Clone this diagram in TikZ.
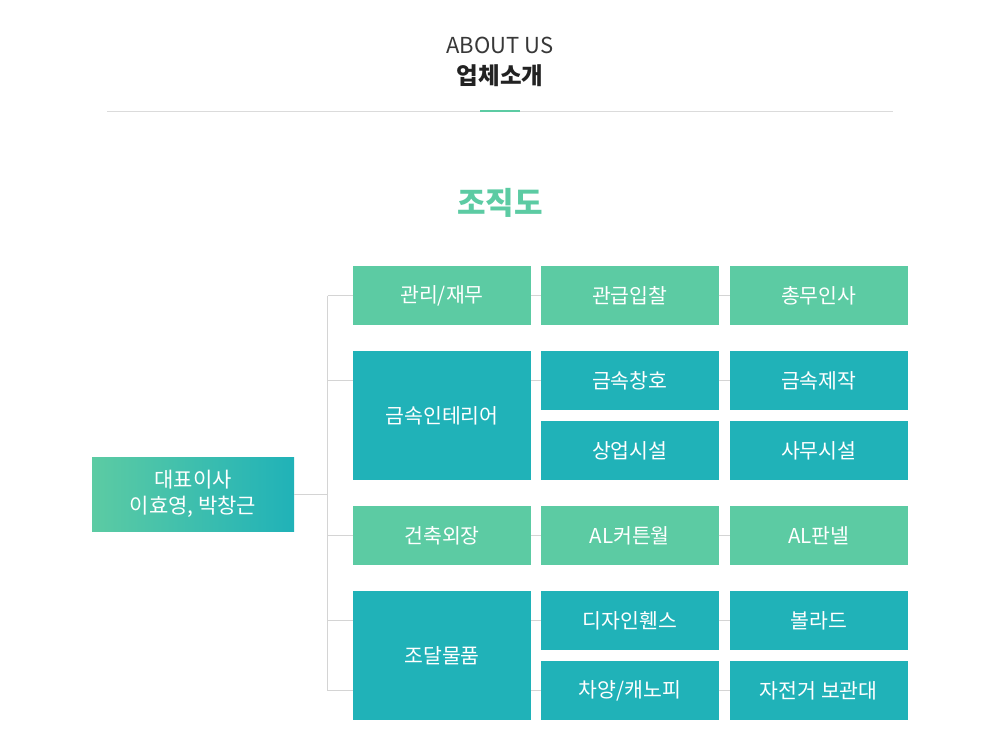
\documentclass[tikz,border=0pt]{standalone}
\usepackage{fontspec}
\setmainfont{Noto Sans CJK KR}
\definecolor{gr}{HTML}{5CCBA3}
\definecolor{tl}{HTML}{20B2B8}
\definecolor{ln}{HTML}{D4D4D4}
\definecolor{ink}{HTML}{222222}
\tikzset{
  box/.style={inner sep=0pt, outer sep=0pt, minimum width=177.5pt, text=white,
              font=\fontsize{20.5}{24}\selectfont},
  gbox/.style={box, fill=gr, minimum height=59pt},
  tbox/.style={box, fill=tl, minimum height=59pt},
  tbig/.style={box, fill=tl, minimum height=129pt},
  conn/.style={draw=ln, line width=1pt},
}
\begin{document}
\begin{tikzpicture}[x=1pt,y=-1pt]
\useasboundingbox (0,0) rectangle (1000,750);
\fill[white] (0,0) rectangle (1000,750);

% header
\node[font=\fontsize{22}{26}\selectfont, text=ink!90] (about) at (500,45) {ABOUT US};
\node[font=\fontsize{23.5}{26}\selectfont\bfseries, text=ink] (title) at (500,76) {업체소개};
\coordinate (hl) at (107,111);
\coordinate (hr) at (893,111);
\coordinate (gl) at (480,111);
\coordinate (gr2) at (520,111);
\draw[draw=black!14, line width=1pt] (hl) -- (hr);
\draw[draw=gr, line width=2pt] (gl) -- (gr2);
\node[font=\fontsize{31}{34}\selectfont\bfseries, text=gr] (org) at (500,203) {조직도};

% CEO
\node[inner sep=0pt, outer sep=0pt, minimum width=202pt, minimum height=74pt,
      left color=gr, right color=tl, text=white, align=center,
      font=\fontsize{21}{26.5}\selectfont] (ceo) at (193,494) {대표이사\\이효영, 박창근};

% column 1
\node[gbox] (m1) at (442,295.5) {관리/재무};
\node[tbig] (m2) at (442,415.5) {금속인테리어};
\node[gbox] (m3) at (442,535.5) {건축외장};
\node[tbig] (m4) at (442,655.5) {조달물품};

% column 2
\node[gbox] (s11) at (629.75,295.5) {관급입찰};
\node[tbox] (s21) at (629.75,380.5) {금속창호};
\node[tbox] (s22) at (629.75,450.5) {상업시설};
\node[gbox] (s31) at (629.75,535.5) {AL커튼월};
\node[tbox] (s41) at (629.75,620.5) {디자인휀스};
\node[tbox] (s42) at (629.75,690.5) {차양/캐노피};

% column 3
\node[gbox] (t11) at (818.75,295.5) {총무인사};
\node[tbox] (t21) at (818.75,380.5) {금속제작};
\node[tbox] (t22) at (818.75,450.5) {사무시설};
\node[gbox] (t31) at (818.75,535.5) {AL판넬};
\node[tbox] (t41) at (818.75,620.5) {볼라드};
\node[tbox] (t42) at (818.75,690.5) {자전거 보관대};

% connectors
\coordinate (tk) at (327.5,0);
\draw[conn] (ceo.east) -- (ceo.east -| tk);
\draw[conn] (tk |- m1.west) -- (tk |- s42.west);
\draw[conn] (tk |- m1.west) -- (m1.west);
\draw[conn] (tk |- s21.west) -- (s21.west -| m2.west);
\draw[conn] (tk |- m3.west) -- (m3.west);
\draw[conn] (tk |- s41.west) -- (s41.west -| m4.west);
\draw[conn] (tk |- s42.west) -- (s42.west -| m4.west);

\draw[conn] (m1.east) -- (s11.west);
\draw[conn] (m2.east |- s21.west) -- (s21.west);
\draw[conn] (m3.east) -- (s31.west);
\draw[conn] (m4.east |- s41.west) -- (s41.west);
\draw[conn] (m4.east |- s42.west) -- (s42.west);

\draw[conn] (s11.east) -- (t11.west);
\draw[conn] (s21.east) -- (t21.west);
\draw[conn] (s31.east) -- (t31.west);
\draw[conn] (s41.east) -- (t41.west);
\draw[conn] (s42.east) -- (t42.west);
\end{tikzpicture}
\end{document}
